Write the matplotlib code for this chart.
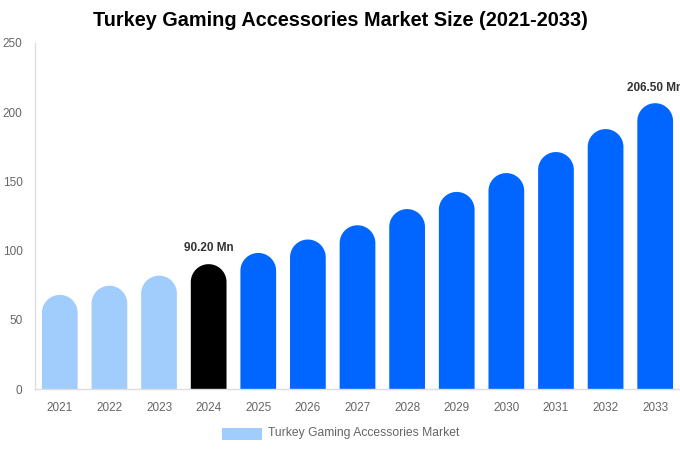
import numpy as np
import matplotlib.pyplot as plt
from matplotlib.patches import Polygon, Rectangle

plt.rcParams['font.family'] = ['Liberation Sans', 'DejaVu Sans']

years = ['2021', '2022', '2023', '2024', '2025', '2026', '2027',
         '2028', '2029', '2030', '2031', '2032', '2033']
values = [68.0, 74.6, 81.9, 90.2, 98.3, 108.0, 118.3,
          130.0, 142.4, 156.0, 171.2, 187.8, 206.5]
colors = ['#a0cdfc'] * 3 + ['#000000'] + ['#0066ff'] * 9
labels = {3: '90.20 Mn', 12: '206.50 Mn'}
yticks = [0, 50, 100, 150, 200, 250]
series_name = 'Turkey Gaming Accessories Market'
title = 'Turkey Gaming Accessories Market Size (2021-2033)'

W, H = 680, 450
fig = plt.figure(figsize=(W / 100, H / 100), dpi=100)
ax_left, ax_right, ax_top, ax_bottom = 35, 680, 43, 389
ax = fig.add_axes([ax_left / W, 1 - ax_bottom / H,
                   (ax_right - ax_left) / W, (ax_bottom - ax_top) / H])

n = len(years)
ax.set_xlim(-0.5, n - 0.5)
ax.set_ylim(0, 250)

bar_w = 0.72
# radius of rounded top in y data units (half bar width in pixels)
px_per_x = (ax_right - ax_left) / n
px_per_y = (ax_bottom - ax_top) / 250
r_y = (bar_w * px_per_x / 2) / px_per_y
t = np.linspace(0, np.pi, 60)

for i, (v, c) in enumerate(zip(values, colors)):
    xs = i + (bar_w / 2) * np.cos(t)
    ys = (v - r_y) + r_y * np.sin(t)
    pts = [(i + bar_w / 2, 0)] + list(zip(xs, ys)) + [(i - bar_w / 2, 0)]
    ax.add_patch(Polygon(pts, closed=True, facecolor=c, edgecolor='none'))
    if i in labels:
        ax.text(i, v + 7, labels[i], ha='center', va='bottom',
                fontsize=8.5, fontweight='bold', color='#333333', clip_on=False)

ax.set_xticks(range(n))
ax.set_xticklabels(years)
ax.set_yticks(yticks)
ax.tick_params(axis='both', length=0, labelsize=8.5, labelcolor='#666666')
ax.tick_params(axis='x', pad=9.5)
ax.tick_params(axis='y', pad=9)
for s in ['top', 'right']:
    ax.spines[s].set_visible(False)
for s in ['left', 'bottom']:
    ax.spines[s].set_color('#dddddd')
    ax.spines[s].set_linewidth(1)

fig.text(340 / W, 1 - 21 / H, title, ha='center', va='center',
         fontsize=14.3, fontweight='bold', color='#000000')

fig.patches.append(Rectangle((222 / W, 1 - 440 / H), 40 / W, 12 / H,
                             transform=fig.transFigure, color='#a0cdfc', lw=0))
fig.text(268 / W, 1 - 433 / H, series_name, ha='left', va='center',
         fontsize=8.7, color='#666666')

fig.savefig('out.png', dpi=100)
